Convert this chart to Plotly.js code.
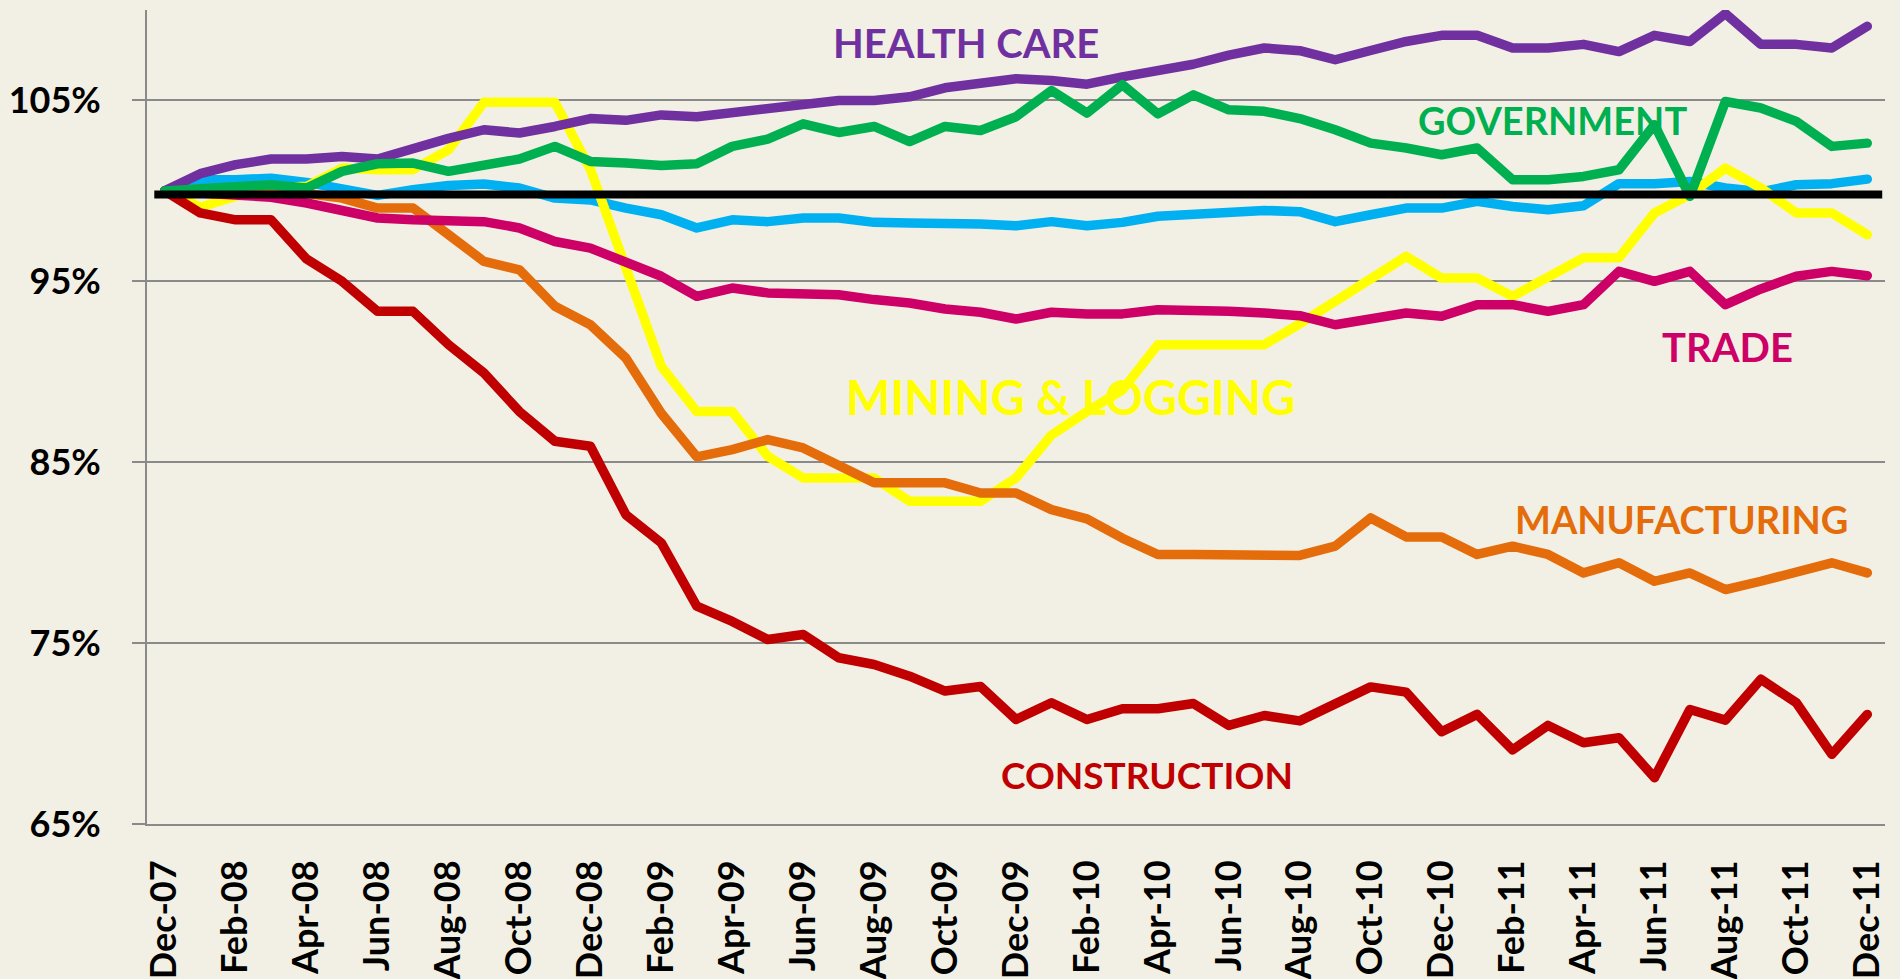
<!DOCTYPE html>
<html>
<head>
<meta charset="utf-8">
<script src="https://cdn.plot.ly/plotly-3.0.1.min.js"></script>
<style>
  html, body { margin: 0; padding: 0; background: #F2F0E4; }
  #chart { width: 1900px; height: 979px; }
  path.js-line { stroke-linejoin: round !important; stroke-linecap: round !important; }
</style>
</head>
<body>
<div id="chart"></div>
<script>
// ---- categories (one per month) ----
const months = [
  "Dec-07","Jan-08","Feb-08","Mar-08","Apr-08","May-08","Jun-08","Jul-08","Aug-08","Sep-08","Oct-08","Nov-08",
  "Dec-08","Jan-09","Feb-09","Mar-09","Apr-09","May-09","Jun-09","Jul-09","Aug-09","Sep-09","Oct-09","Nov-09",
  "Dec-09","Jan-10","Feb-10","Mar-10","Apr-10","May-10","Jun-10","Jul-10","Aug-10","Sep-10","Oct-10","Nov-10",
  "Dec-10","Jan-11","Feb-11","Mar-11","Apr-11","May-11","Jun-11","Jul-11","Aug-11","Sep-11","Oct-11","Nov-11",
  "Dec-11"
];

// ---- tick labels shown on the x axis ----
const tickLabels = [
  "Dec-07","Feb-08","Apr-08","Jun-08","Aug-08","Oct-08","Dec-08","Feb-09","Apr-09","Jun-09","Aug-09","Oct-09",
  "Dec-09","Feb-10","Apr-10","Jun-10","Aug-10","Oct-10","Dec-10","Feb-11","Apr-11","Jun-11","Aug-11","Oct-11",
  "Dec-11"
];

// ---- series values (% of December 2007 level) ----
const healthCare = [
  100, 100.95, 101.45, 101.76, 101.76, 101.9, 101.76, 102.37, 102.9, 103.38, 103.2, 103.56,
  104.0, 103.9, 104.2, 104.1, 104.3, 104.5, 104.8, 105.0, 105.0, 105.2, 105.7, 105.9,
  106.2, 106.1, 105.9, 106.3, 106.6, 107.0, 107.5, 107.9, 107.75, 107.25, 107.76, 108.26,
  108.6, 108.6, 107.9, 107.9, 108.1, 107.7, 108.6, 108.26, 109.8, 108.1, 108.1, 107.9,
  109.1
];
const government = [
  100, 100.15, 100.25, 100.34, 100.16, 101.08, 101.5, 101.54, 101.08, 101.45, 101.76, 102.46,
  101.63, 101.54, 101.4, 101.5, 102.46, 102.86, 103.71, 103.23, 103.56, 102.73, 103.56, 103.34,
  104.1, 105.55, 104.3, 105.87, 104.26, 105.31, 104.48, 104.4, 104.0, 103.38, 102.64, 102.37,
  102.0, 102.37, 100.62, 100.62, 100.8, 101.17, 103.66, 99.7, 104.94, 104.58, 103.84, 102.46,
  102.64
];
const otherSeries = [
  100, 100.62, 100.62, 100.7, 100.47, 100.16, 99.75, 100.06, 100.3, 100.38, 100.16, 99.6,
  99.5, 99.05, 98.68, 97.95, 98.4, 98.3, 98.5, 98.5, 98.26, 98.22, 98.22, 98.17,
  98.07, 98.3, 98.07, 98.26, 98.6, 98.68, 98.8, 98.92, 98.85, 98.3, 98.68, 99.05,
  99.05, 99.42, 99.14, 98.96, 99.18, 100.4, 100.4, 100.52, 100.16, 99.95, 100.34, 100.4,
  100.65
];
const trade = [
  100, 99.9, 99.8, 99.65, 99.33, 98.87, 98.5, 98.4, 98.4, 98.3, 97.95, 97.2,
  96.84, 96.1, 95.28, 94.17, 94.63, 94.36, 94.36, 94.26, 93.99, 93.8, 93.47, 93.29,
  92.92, 93.29, 93.2, 93.2, 93.43, 93.43, 93.34, 93.25, 93.1, 92.6, 92.92, 93.25,
  93.07, 93.71, 93.71, 93.34, 93.71, 95.55, 95.0, 95.55, 93.71, 94.58, 95.28, 95.55,
  95.31
];
const miningLogging = [
  100, 99.1, 99.7, 100.16, 100.25, 101.26, 101.17, 101.17, 102.27, 104.9, 104.9, 104.9,
  101.2, 95.9, 90.3, 87.8, 87.8, 85.33, 84.13, 84.13, 84.13, 82.84, 82.84, 82.84,
  84.13, 86.5, 87.8, 89.0, 91.5, 91.5, 91.5, 91.5, 92.65, 93.9, 95.18, 96.38,
  95.18, 95.18, 94.17, 95.18, 96.3, 96.3, 98.78, 99.8, 101.26, 100.16, 98.78, 98.78,
  97.58
];
const manufacturing = [
  100, 100.1, 100.2, 100.1, 99.9, 99.6, 99.05, 99.05, 97.58, 96.1, 95.64, 93.62,
  92.6, 90.76, 87.7, 85.3, 85.7, 86.25, 85.79, 84.78, 83.86, 83.86, 83.86, 83.3,
  83.3, 82.38, 81.87, 80.8, 79.9, 79.9, 79.9, 79.9, 79.85, 80.36, 81.92, 80.87,
  80.87, 79.9, 80.36, 79.9, 78.88, 79.44, 78.42, 78.88, 77.96, 78.42, 78.98, 79.44,
  78.88
];
const construction = [
  100, 98.78, 98.4, 98.4, 96.23, 95.0, 93.34, 93.34, 91.5, 89.93, 87.8, 86.16,
  85.88, 82.1, 80.54, 77.04, 76.2, 75.2, 75.48, 74.19, 73.82, 73.17, 72.35, 72.6,
  70.78, 71.7, 70.78, 71.37, 71.37, 71.66, 70.45, 71.0, 70.7, 71.6, 72.58, 72.29,
  70.1, 71.06, 69.1, 70.45, 69.49, 69.77, 67.56, 71.33, 70.74, 73.0, 71.7, 68.85,
  71.06
];

// reference level drawn as the thick black line
const REF_LEVEL = 99.8;

// ---- styling ----
const FONT = 'Lato, "Open Sans", "DejaVu Sans", sans-serif';
const BG = '#F2F0E4';
const GRID = '#8A8A8A';

const series = [
  { name: 'Other (unlabeled)', y: otherSeries,   color: '#00B0F0' },
  { name: 'Mining & Logging',  y: miningLogging, color: '#FFFF00' },
  { name: 'Manufacturing',     y: manufacturing, color: '#E46C0A' },
  { name: 'Trade',             y: trade,         color: '#CC0066' },
  { name: 'Construction',      y: construction,  color: '#C00000' },
  { name: 'Health Care',       y: healthCare,    color: '#7030A0' },
  { name: 'Government',        y: government,    color: '#00B050' }
];

const traces = series.map(s => ({
  type: 'scatter',
  mode: 'lines',
  x: months,
  y: s.y,
  name: s.name,
  line: { color: s.color, width: 9.5 },
  showlegend: false
}));

// tick marks sit on category boundaries, every second month (Excel style)
const boundaryTicks = tickLabels.map(lbl => months.indexOf(lbl) - 0.5);

const labelDefs = [
  { text: 'HEALTH CARE',      color: '#7030A0', x: 0.4714, y: 0.9595, size: 40 },
  { text: 'GOVERNMENT',       color: '#00B050', x: 0.8089, y: 0.8651, size: 38 },
  { text: 'TRADE',            color: '#CC0066', x: 0.9092, y: 0.5857, size: 40 },
  { text: 'MINING &amp; LOGGING', color: '#FFFF00', x: 0.5312, y: 0.5244, size: 47 },
  { text: 'MANUFACTURING',    color: '#E46C0A', x: 0.8827, y: 0.3746, size: 38 },
  { text: 'CONSTRUCTION',     color: '#C00000', x: 0.5755, y: 0.0604, size: 37 }
];

const layout = {
  width: 1900,
  height: 979,
  paper_bgcolor: BG,
  plot_bgcolor: BG,
  margin: { l: 147, r: 15, t: 10, b: 155, pad: 0 },
  showlegend: false,
  xaxis: {
    type: 'category',
    categoryorder: 'array',
    categoryarray: months,
    range: [-0.5, months.length - 0.5],
    tickmode: 'array',
    tickvals: tickLabels,
    ticktext: tickLabels,
    tickangle: -90,
    ticks: '',
    ticklabelstandoff: 20,
    tickfont: { family: FONT, size: 36, weight: 700, color: '#000000' },
    showgrid: false,
    zeroline: false,
    showline: true,
    linecolor: GRID,
    linewidth: 2
  },
  xaxis2: {
    overlaying: 'x',
    anchor: 'y',
    side: 'bottom',
    type: 'linear',
    range: [-0.5, months.length - 0.5],
    tickmode: 'array',
    tickvals: boundaryTicks,
    ticks: 'outside',
    ticklen: 13,
    tickwidth: 2,
    tickcolor: GRID,
    showticklabels: false,
    showgrid: false,
    zeroline: false,
    showline: false
  },
  yaxis: {
    range: [65, 110],
    tickmode: 'linear',
    tick0: 65,
    dtick: 10,
    ticksuffix: '%',
    ticks: 'outside',
    ticklen: 13,
    tickwidth: 2,
    tickcolor: GRID,
    ticklabelstandoff: 24,
    tickfont: { family: FONT, size: 36, weight: 700, color: '#000000' },
    showgrid: true,
    gridcolor: GRID,
    gridwidth: 2,
    zeroline: false,
    showline: true,
    linecolor: GRID,
    linewidth: 2
  },
  shapes: [{
    type: 'line',
    xref: 'paper', yref: 'y',
    x0: 0.0042, x1: 0.9984,
    y0: REF_LEVEL, y1: REF_LEVEL,
    line: { color: '#000000', width: 8 },
    layer: 'above'
  }],
  annotations: labelDefs.map(d => ({
    text: d.text,
    xref: 'paper', yref: 'paper',
    x: d.x, y: d.y,
    xanchor: 'center', yanchor: 'middle',
    showarrow: false,
    font: { family: FONT, size: d.size, weight: 700, color: d.color }
  }))
};

Plotly.newPlot('chart', traces, layout, { displayModeBar: false, staticPlot: true });
</script>
</body>
</html>
